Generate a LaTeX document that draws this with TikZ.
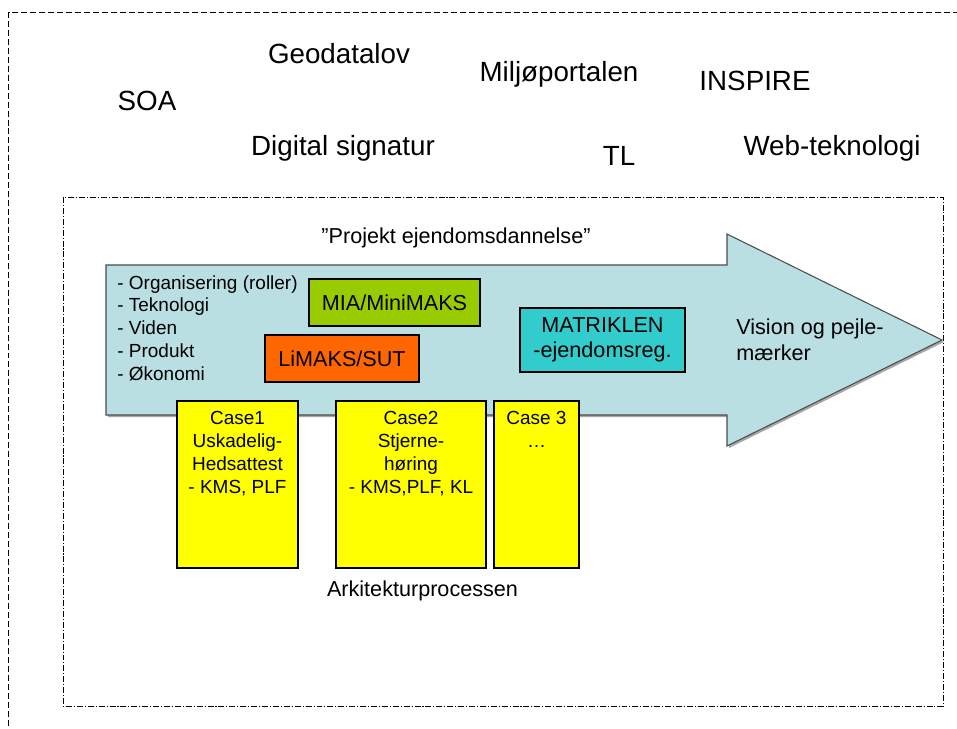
\documentclass[tikz,border=0pt]{standalone}
\usepackage{fontspec}
\setmainfont{Liberation Sans}
\definecolor{arrowblue}{HTML}{BADFE3}
\definecolor{miagreen}{HTML}{99CC00}
\definecolor{limaksorange}{HTML}{FF6600}
\definecolor{matrikelcyan}{HTML}{33CCCC}
\definecolor{caseyellow}{HTML}{FFFF00}
\begin{document}
\begin{tikzpicture}[x=0.02cm,y=-0.02cm,
    word/.style={font=\fontsize{15.8}{19}\selectfont, anchor=base},
    boxtext/.style={font=\fontsize{12.3}{14.2}\selectfont, align=center},
    casetext/.style={font=\fontsize{10.8}{13}\selectfont, align=center, anchor=north},
    colbox/.style={draw=black, line width=0.7pt}]
    \tikzstyle{every node}+=[inner sep=0pt]
    \useasboundingbox (0,0) rectangle (957,728);
    \clip (0,0) rectangle (957,728);
    \fill [white] (0,0) rectangle (957,728);
    % frames
    \draw [black, line width=0.5pt, dash pattern=on 3.4pt off 1.7pt] (8.5,12) rectangle (970,740);
    \draw [black, line width=0.5pt, dash pattern=on 3.4pt off 1.1pt on 0.6pt off 1.1pt] (63,197) rectangle (943,706);
    % words on top
    \draw (339,63) node [word] (geodatalov) {Geodatalov};
    \draw (147,110) node [word] (soa) {SOA};
    \draw (559,81) node [word] (miljo) {Miljøportalen};
    \draw (755,90) node [word] (inspire) {INSPIRE};
    \draw (343,155) node [word] (digsig) {Digital signatur};
    \draw (619,165) node [word] (tl) {TL};
    \draw (832,155) node [word] (webtek) {Web-teknologi};
    % project arrow
    \fill [gray!70] (108,267) -- (729,267) -- (729,236) -- (944,342) -- (729,448) -- (729,417) -- (108,417) -- cycle;
    \draw [gray!60!black, line width=0.6pt, fill=arrowblue] (106,265) -- (727,265) -- (727,234) -- (942,340) -- (727,446) -- (727,415) -- (106,415) -- cycle;
    \draw (456,243) node [boxtext, anchor=base] (projekt) {”Projekt ejendomsdannelse”};
    \draw (117,275) node [anchor=north west, align=left, font=\fontsize{10.8}{13}\selectfont] (facets)
        {- Organisering (roller)\\- Teknologi\\- Viden\\- Produkt\\- Økonomi};
    \draw (736,318) node [anchor=north west, align=left, font=\fontsize{12.3}{15.3}\selectfont] (vision)
        {Vision og pejle-\\mærker};
    % coloured boxes
    \draw [colbox, fill=miagreen] (309,279) rectangle node [boxtext] (mia) {MIA/MiniMAKS} (480,326);
    \draw [colbox, fill=limaksorange] (265,335) rectangle node [boxtext] (limaks) {LiMAKS/SUT} (419,382);
    \draw [colbox, fill=matrikelcyan] (520,308) rectangle node [boxtext] (matriklen) {MATRIKLEN\\-ejendomsreg.} (685,372);
    % cases
    \draw [colbox, fill=caseyellow] (177,401) rectangle (298,568);
    \draw (237.5,411) node [casetext] (case1) {Case1\\Uskadelig-\\Hedsattest\\- KMS, PLF};
    \draw [colbox, fill=caseyellow] (336,401) rectangle (486,568);
    \draw (411,411) node [casetext] (case2) {Case2\\Stjerne-\\høring\\- KMS,PLF, KL};
    \draw [colbox, fill=caseyellow] (494,401) rectangle (579,568);
    \draw (536.5,411) node [casetext] (case3) {Case 3\\…};
    \draw (422.5,596) node [boxtext, anchor=base] (arkitektur) {Arkitekturprocessen};
\end{tikzpicture}
\end{document}
